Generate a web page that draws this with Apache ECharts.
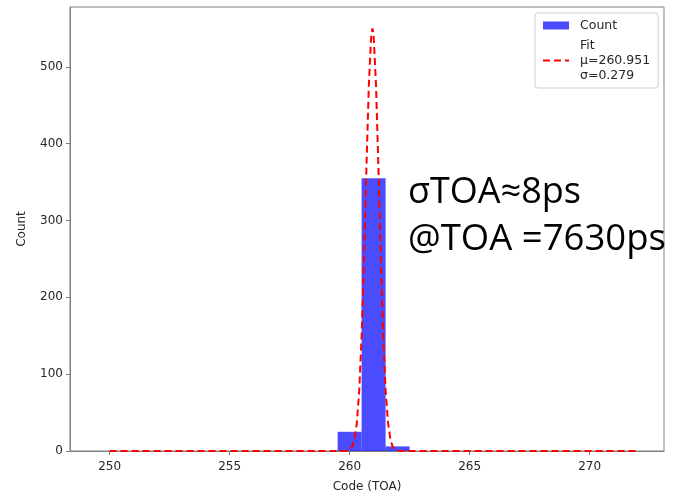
<!DOCTYPE html>
<html>
<head>
<meta charset="utf-8">
<script src="https://cdn.jsdelivr.net/npm/echarts@6/dist/echarts.min.js"></script>
<style>
  html, body { margin: 0; padding: 0; background: #fff; }
  #main { width: 674px; height: 493px; }
</style>
</head>
<body>
<div id="main"></div>
<script>
// histogram bins (edges) and counts
var binLeft = [259.5, 260.5, 261.5];
var binRight = [260.5, 261.5, 262.5];
var counts = [25, 355, 6];

// gaussian fit curve
var fitX = [250, 259.8, 259.9, 260.0, 260.1, 260.2, 260.3, 260.4, 260.5, 260.6, 260.7, 260.8, 260.9, 260.951,
            261.0, 261.1, 261.2, 261.3, 261.4, 261.5, 261.6, 261.7, 261.8, 261.9, 262.0, 262.1, 272];
var fitY = [0, 0, 0.5, 1.6, 5, 15, 36, 78, 149, 249, 367, 475, 541, 550,
            542, 477, 369, 252, 151, 79, 37, 15, 5, 1.7, 0.5, 0, 0];

var xTicks = [250, 255, 260, 265, 270];
var yTicks = [0, 100, 200, 300, 400, 500];

var fitName = 'Fit\nμ=260.951\nσ=0.279';

var myChart = echarts.init(document.getElementById('main'));

var histData = [];
for (var i = 0; i < counts.length; i++) {
    histData.push([binLeft[i], binRight[i], counts[i]]);
}
var fitData = [];
for (var j = 0; j < fitX.length; j++) {
    fitData.push([fitX[j], fitY[j]]);
}

var tickFont = { fontFamily: 'DejaVu Sans', fontSize: 12, color: '#262626' };

option = {
    animation: false,
    backgroundColor: '#fff',
    grid: {
        left: 70, top: 7, right: 10, bottom: 42,
        outerBoundsMode: 'none',
        containLabel: false,
        show: true, borderColor: '#808080', borderWidth: 1
    },
    xAxis: {
        type: 'value',
        min: 248.35,
        max: 273.1,
        name: 'Code (TOA)',
        nameLocation: 'middle',
        nameGap: 30,
        nameTextStyle: { fontFamily: 'DejaVu Sans', fontSize: 12, color: '#262626' },
        splitLine: { show: false },
        axisLine: { show: true, lineStyle: { color: '#808080' } },
        axisTick: { show: true, length: 4, lineStyle: { color: '#808080' }, customValues: xTicks },
        axisLabel: Object.assign({ margin: 10, customValues: xTicks }, tickFont)
    },
    yAxis: {
        type: 'value',
        min: 0,
        max: 578,
        name: 'Count',
        nameLocation: 'middle',
        nameGap: 42,
        nameTextStyle: { fontFamily: 'DejaVu Sans', fontSize: 12, color: '#262626' },
        splitLine: { show: false },
        axisLine: { show: true, lineStyle: { color: '#808080' } },
        axisTick: { show: true, length: 4, lineStyle: { color: '#808080' }, customValues: yTicks },
        axisLabel: Object.assign({ margin: 7, customValues: yTicks }, tickFont)
    },
    legend: {
        orient: 'vertical',
        left: 535,
        top: 13,
        padding: [5, 8, 5, 7],
        itemGap: 5,
        itemWidth: 26,
        itemHeight: 8,
        borderColor: '#d0d0d0',
        borderWidth: 1,
        borderRadius: 3,
        backgroundColor: '#fff',
        textStyle: { fontFamily: 'DejaVu Sans', fontSize: 12.5, color: '#262626', lineHeight: 15, padding: [0, 0, 0, 6] },
        data: [
            { name: 'Count', icon: 'rect' },
            { name: fitName, itemStyle: { opacity: 0 } }
        ]
    },
    series: [{
        name: 'Count',
        type: 'custom',
        itemStyle: { color: 'rgba(0,0,255,0.7)' },
        renderItem: function (params, api) {
            var p0 = api.coord([api.value(0), api.value(2)]);
            var p1 = api.coord([api.value(1), 0]);
            return {
                type: 'rect',
                shape: { x: p0[0], y: p0[1], width: p1[0] - p0[0], height: p1[1] - p0[1] },
                style: { fill: 'rgba(0,0,255,0.7)' }
            };
        },
        encode: { x: [0, 1], y: 2 },
        data: histData,
        z: 2
    }, {
        name: fitName,
        type: 'line',
        showSymbol: false,
        symbol: 'none',
        smooth: false,
        lineStyle: { color: '#ff0000', width: 2, type: [7, 4] },
        itemStyle: { color: '#ff0000' },
        data: fitData,
        z: 3
    }],
    graphic: [{
        type: 'text',
        left: 408,
        top: 175,
        z: 10,
        style: { text: 'σTOA≈8ps', font: '36px "Open Sans"', fill: '#000' }
    }, {
        type: 'text',
        left: 408,
        top: 221,
        z: 10,
        style: { text: '@TOA =7630ps', font: '36.5px "Open Sans"', fill: '#000' }
    }]
};
myChart.setOption(option);
</script>
</body>
</html>
